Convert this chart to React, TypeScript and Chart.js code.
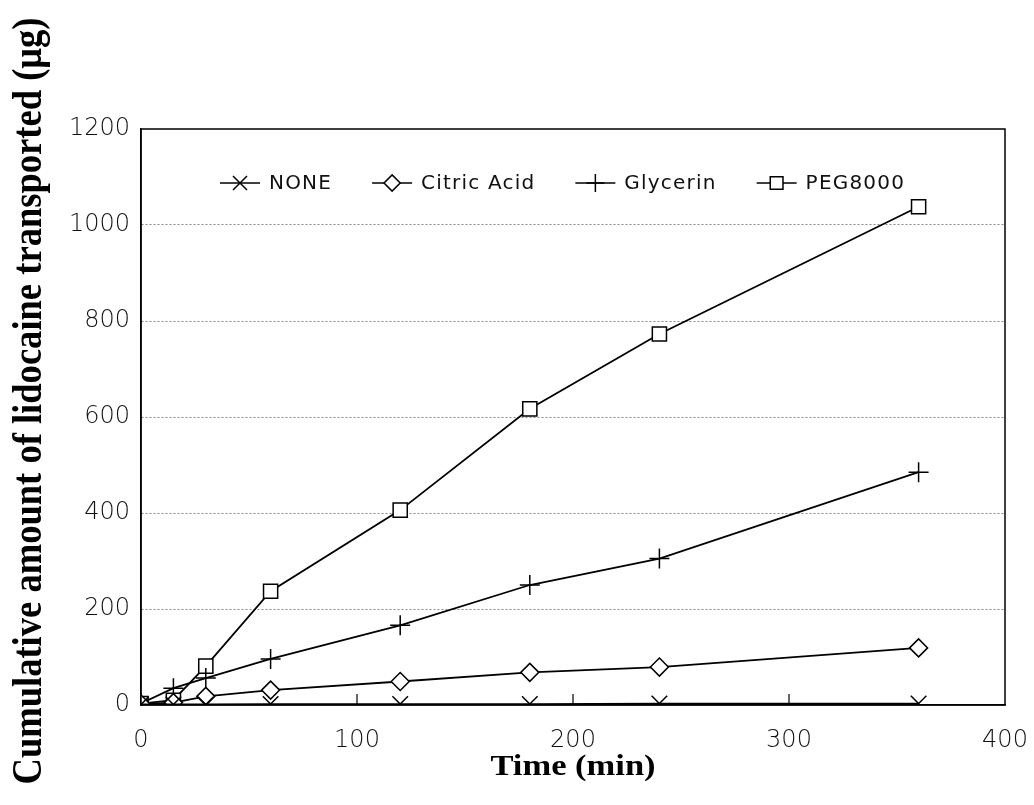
import React, { useEffect, useRef } from "react";
import { Chart, registerables } from "chart.js";

Chart.register(...registerables);

const TIMES = [0, 15, 30, 60, 120, 180, 240, 360];
const NONE_VALUES = [1, 1, 1, 2, 2, 2, 3, 3];
const CITRIC_VALUES = [2, 5, 18, 31, 49, 68, 79, 119];
const GLYCERIN_VALUES = [3, 35, 56, 96, 166, 250, 305, 485];
const PEG_VALUES = [3, 10, 81, 237, 406, 617, 773, 1038];
const SERIES_NAMES = ["NONE", "Citric Acid", "Glycerin", "PEG8000"];
const SERIES_STYLES = ["crossRot", "rectRot", "cross", "rect"];
const SERIES_RADII = [11, 9, 10, 10];
const X_TITLE = "Time (min)";
const Y_TITLE = "Cumulative amount of lidocaine transported (\u03bcg)";
const X_MIN = 0, X_MAX = 400, X_STEP = 100;
const Y_MIN = 0, Y_MAX = 1200, Y_STEP = 200;

function drawMarker(ctx: CanvasRenderingContext2D, style: string, x: number, y: number, r: number) {
  ctx.beginPath();
  if (style === "rect") {
    const s = Math.SQRT1_2 * r;
    ctx.rect(x - s, y - s, 2 * s, 2 * s);
    ctx.fill();
    ctx.stroke();
  } else if (style === "rectRot") {
    ctx.moveTo(x - r, y);
    ctx.lineTo(x, y - r);
    ctx.lineTo(x + r, y);
    ctx.lineTo(x, y + r);
    ctx.closePath();
    ctx.fill();
    ctx.stroke();
  } else if (style === "cross") {
    ctx.moveTo(x, y - r);
    ctx.lineTo(x, y + r);
    ctx.moveTo(x - r, y);
    ctx.lineTo(x + r, y);
    ctx.stroke();
  } else {
    const o = Math.SQRT1_2 * r;
    ctx.moveTo(x - o, y - o);
    ctx.lineTo(x + o, y + o);
    ctx.moveTo(x - o, y + o);
    ctx.lineTo(x + o, y - o);
    ctx.stroke();
  }
}

const framePlugin = {
  id: "frameAndText",
  afterDraw(chart: any) {
    const ctx: CanvasRenderingContext2D = chart.ctx;
    const a = chart.chartArea;
    const xs = chart.scales.x;
    ctx.save();
    // box
    ctx.strokeStyle = "#000";
    ctx.lineWidth = 1.5;
    ctx.strokeRect(a.left, a.top, a.right - a.left, a.bottom - a.top);
    // inner ticks on x axis
    ctx.lineWidth = 1.2;
    xs.ticks.forEach((t: any) => {
      if (t.value <= X_MIN || t.value >= X_MAX) return;
      const px = xs.getPixelForValue(t.value);
      ctx.beginPath();
      ctx.moveTo(px, a.bottom);
      ctx.lineTo(px, a.bottom - 11);
      ctx.stroke();
    });
    // legend
    const ly = a.top + 54;
    let lx = a.left + 79;
    ctx.font = "20px 'DejaVu Sans'";
    (ctx as any).letterSpacing = "1.2px";
    ctx.textBaseline = "middle";
    ctx.textAlign = "left";
    SERIES_NAMES.forEach((name, i) => {
      ctx.strokeStyle = "#000";
      ctx.fillStyle = "#fff";
      ctx.lineWidth = 1.5;
      ctx.beginPath();
      ctx.moveTo(lx, ly);
      ctx.lineTo(lx + 40, ly);
      ctx.stroke();
      drawMarker(ctx, SERIES_STYLES[i], lx + 20, ly, SERIES_RADII[i] * 0.9);
      ctx.fillStyle = "#111";
      ctx.fillText(name, lx + 49, ly + 1);
      const w = ctx.measureText(name).width;
      lx = lx + 49 + w + 40;
    });
    (ctx as any).letterSpacing = "0px";
    // x title
    ctx.fillStyle = "#000";
    ctx.font = "bold 30px 'Liberation Serif'";
    ctx.textAlign = "center";
    ctx.textBaseline = "alphabetic";
    ctx.save();
    ctx.translate((a.left + a.right) / 2, 775);
    ctx.scale(1.15, 1);
    ctx.fillText(X_TITLE, 0, 0);
    ctx.restore();
    // y title
    ctx.font = "bold 36px 'Liberation Serif'";
    const w = ctx.measureText(Y_TITLE).width;
    ctx.save();
    ctx.translate(41, 401);
    ctx.rotate(-Math.PI / 2);
    ctx.scale(767 / w, 1.15);
    ctx.fillText(Y_TITLE, 0, 0);
    ctx.restore();
    ctx.restore();
  },
};

export default function App() {
  const ref = useRef<HTMLCanvasElement | null>(null);
  useEffect(() => {
    if (!ref.current) return;
    const series = [NONE_VALUES, CITRIC_VALUES, GLYCERIN_VALUES, PEG_VALUES];
    const chart = new Chart(ref.current, {
      type: "line",
      data: {
        datasets: series.map((vals, i) => ({
          label: SERIES_NAMES[i],
          data: TIMES.map((t, j) => ({ x: t, y: vals[j] })),
          borderColor: "#000",
          borderWidth: 1.8,
          backgroundColor: "#fff",
          pointStyle: SERIES_STYLES[i] as any,
          pointRadius: SERIES_RADII[i],
          pointBorderWidth: 1.5,
          pointBorderColor: "#000",
          pointBackgroundColor: "#fff",
          tension: 0,
          fill: false,
        })),
      },
      options: {
        animation: false,
        responsive: true,
        maintainAspectRatio: false,
        layout: { padding: { left: 0, top: 129, right: 29, bottom: 0 } },
        plugins: { legend: { display: false }, tooltip: { enabled: false }, title: { display: false } },
        scales: {
          x: {
            type: "linear",
            min: X_MIN,
            max: X_MAX,
            ticks: {
              stepSize: X_STEP,
              color: "#111",
              font: { family: "'DejaVu Sans'", size: 24, weight: "300" as any },
              padding: 21,
              maxRotation: 0,
              callback: (v: any) => String(v),
            },
            grid: { display: false, drawTicks: false },
            border: { display: true, color: "#000", width: 1.5 },
            afterFit: (s: any) => { s.height = 100; s.paddingLeft = 0; s.paddingRight = 0; },
          },
          y: {
            type: "linear",
            min: Y_MIN,
            max: Y_MAX,
            ticks: {
              stepSize: Y_STEP,
              color: "#111",
              font: { family: "'DejaVu Sans'", size: 24, weight: "300" as any },
              padding: 11,
              callback: (v: any) => String(v),
            },
            grid: {
              drawTicks: false,
              color: (c: any) => (c.tick && (c.tick.value === Y_MIN || c.tick.value === Y_MAX) ? "rgba(0,0,0,0)" : "#8a8a8a"),
              lineWidth: 1,
            },
            border: { display: true, color: "#000", width: 1.5, dash: [2, 2] } as any,
            afterFit: (s: any) => { s.width = 141; s.paddingTop = 0; s.paddingBottom = 0; },
          },
        },
      },
      plugins: [framePlugin],
    });
    return () => chart.destroy();
  }, []);
  return (
    <div style={{ position: "fixed", left: 0, top: 0, width: 1034, height: 805, background: "#fff" }}>
      <canvas ref={ref} />
    </div>
  );
}
